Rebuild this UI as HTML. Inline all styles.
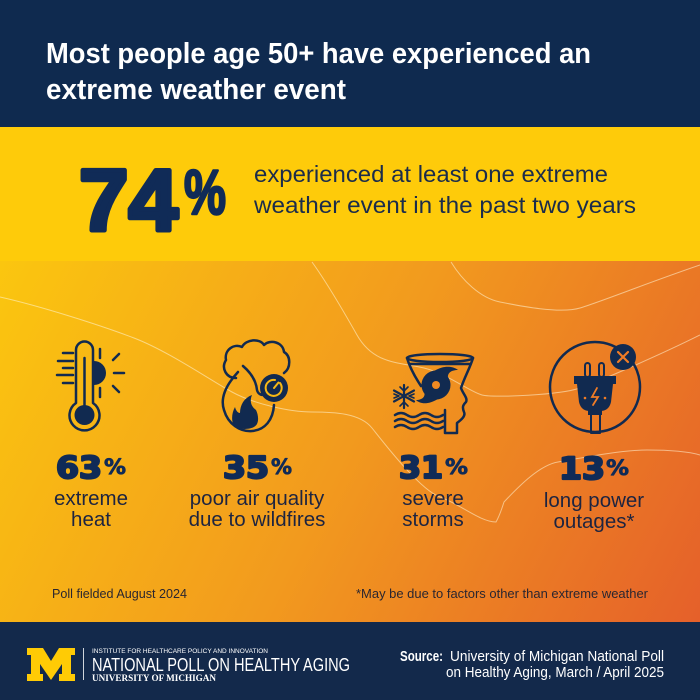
<!DOCTYPE html>
<html><head><meta charset="utf-8"><style>
html,body{margin:0;padding:0;background:#fff;}
svg{display:block;}
</style></head><body>
<svg width="700" height="700" viewBox="0 0 700 700" xmlns="http://www.w3.org/2000/svg">
<defs>
<linearGradient id="bg" gradientUnits="userSpaceOnUse" x1="0" y1="262" x2="700" y2="620">
<stop offset="0" stop-color="#fbc60f"/>
<stop offset="0.5" stop-color="#f29a1e"/>
<stop offset="1" stop-color="#e5602a"/>
</linearGradient>
</defs>
<!-- header -->
<rect x="0" y="0" width="700" height="128" fill="#0f2a4f"/>
<rect x="0" y="127" width="700" height="135" fill="#fecb0a"/>
<rect x="0" y="261" width="700" height="362" fill="url(#bg)"/>
<rect x="0" y="622" width="700" height="78" fill="#13294b"/>

<!-- background contour lines -->
<g fill="none" stroke="#fff5d8" stroke-opacity="0.55" stroke-width="1">
<path d="M0,297 C40,306 100,325 134,338 S210,380 232,392 S290,412 312,412 S360,413 372,428 S420,490 440,497 S480,522 496,522 C500,515 502,508 504,502 C520,485 540,465 558,462 S620,450 647,450 S690,452 700,455"/>
<path d="M312,262 C325,280 340,305 357,335 S400,362 424,368 S470,392 482,395 S560,395 580,388 S660,355 700,335"/>
<path d="M451,262 C462,280 480,298 500,302 S560,314 580,308 S650,282 700,265"/>
</g>

<!-- title -->
<g font-family="'Liberation Sans', Arial, sans-serif" font-weight="bold" fill="#ffffff" font-size="29">
<text x="46" y="63" textLength="545" lengthAdjust="spacingAndGlyphs">Most people age 50+ have experienced an</text>
<text x="46" y="99" textLength="300" lengthAdjust="spacingAndGlyphs">extreme weather event</text>
</g>

<!-- 74% -->
<g font-family="'Liberation Sans', Arial, sans-serif" font-weight="bold" fill="#102b57" stroke="#102b57" stroke-linejoin="round">
<text x="79" y="230" font-size="87" stroke-width="4.5" textLength="99" lengthAdjust="spacingAndGlyphs">74</text>
<text x="184" y="214" font-size="63" stroke-width="2.5" textLength="42" lengthAdjust="spacingAndGlyphs">%</text>
</g>
<g font-family="'Liberation Sans', Arial, sans-serif" fill="#1b2c4b" font-size="23.5">
<text x="254" y="182" textLength="354" lengthAdjust="spacingAndGlyphs">experienced at least one extreme</text>
<text x="254" y="213" textLength="382" lengthAdjust="spacingAndGlyphs">weather event in the past two years</text>
</g>

<!-- ICONS -->
<g stroke="#112a50" stroke-width="2.5" fill="none" stroke-linecap="round" stroke-linejoin="round">
<!-- thermometer -->
<path d="M76,403 V350 A8.5,8.5 0 0 1 93,350 V403 A15,15 0 1 1 76,403 Z"/>
<line x1="84.5" y1="358" x2="84.5" y2="408"/>
<line x1="63" y1="353" x2="73" y2="353"/>
<line x1="58" y1="361" x2="73" y2="361"/>
<line x1="63" y1="368" x2="73" y2="368"/>
<line x1="57" y1="375" x2="73" y2="375"/>
<line x1="63" y1="383" x2="73" y2="383"/>
<line x1="100" y1="349" x2="100" y2="358"/>
<line x1="113" y1="360" x2="119" y2="354"/>
<line x1="114" y1="373" x2="124" y2="373"/>
<line x1="113" y1="386" x2="119" y2="392"/>
<line x1="100" y1="388" x2="100" y2="397"/>
<!-- cloud + fire -->
<path d="M236,378 C226,378 221,368 226,360 C224,350 234,343 242,347 C246,339 260,338 264,345 C270,339 283,342 284,352 C291,356 291,368 284,373"/>
<path d="M238,372 C226,385 220,398 224,410 C228,424 240,432 252,431 C265,430 273,420 274,405"/>
<path d="M243,366 C250,372 256,380 257,390 C258,394 262,396 264,394"/>
<!-- storm -->
<ellipse cx="440" cy="358" rx="33" ry="4"/>
<line x1="410" y1="364" x2="470" y2="364"/>
<path d="M407,358 C410,368 415,377 421,386"/>
<path d="M473,358 C470,368 465,376 461,388 C463,394 468,398 466,402 C463,405 462,407 464,412 C466,416 461,420 457,423 L457,433 L445,433 L445,410"/>
<path d="M404,385 V408 M394,390.5 L414,401.5 M394,401.5 L414,390.5" stroke-width="2.2"/>
<path d="M400,387 L404,391 L408,387 M400,406 L404,402 L408,406 M394,394 L399,396 M414,394 L409,396 M394,398 L399,396 M414,398 L409,396" stroke-width="1.6"/>
<path d="M395,415 q6,-4 12,0 t12,0 t12,0 t12,0"/>
<path d="M395,421 q6,-4 12,0 t12,0 t12,0 t12,0"/>
<path d="M395,427 q6,-4 12,0 t12,0 t12,0 t12,0"/>
<!-- plug -->
<circle cx="595" cy="387" r="45"/>
<rect x="585" y="363" width="5" height="14" rx="2.5" stroke-width="2"/>
<rect x="599" y="363" width="5" height="14" rx="2.5" stroke-width="2"/>
<rect x="591" y="414" width="9" height="19" stroke-width="2"/>
</g>
<g fill="#112a50">
<circle cx="84.5" cy="415" r="10"/>
<path d="M94,361 A12,12 0 0 1 94,385 Z"/>
<path d="M236,428 C231,424 231,414 235,407 C236,411 238,413 240,413 C240,405 244,398 252,395 C249,402 252,407 256,410 C258,414 259,420 257,424 C254,429 246,430 236,428 Z"/>
<circle cx="274" cy="388" r="14"/>
<circle cx="436" cy="385" r="14.5"/>
<path d="M434,371 C444,365 453,366 458,370 C451,370 447,373 448,379 Z"/>
<path d="M438,399 C428,405 420,404 416,400 C423,400 426,396 424,391 Z"/>
<circle cx="623" cy="357" r="13"/>
<path d="M574,376 H616 V384 H574 Z"/>
<path d="M577,384 L613,384 L611,402 Q609,411 600,411 L590,411 Q581,411 579,402 Z"/>
<rect x="588" y="410" width="14" height="5"/>
</g>
<g fill="none" stroke="#f6b814" stroke-width="2" stroke-linecap="round">
<path d="M280,383 A8,8 0 1 1 275,380"/>
<line x1="274" y1="388" x2="278.5" y2="382.5"/>
</g>
<circle cx="436" cy="385" r="4" fill="#f08a22"/>
<g stroke="#f07c26" stroke-width="2.2" stroke-linecap="round" fill="none">
<line x1="618" y1="352" x2="628" y2="362"/>
<line x1="628" y1="352" x2="618" y2="362"/>
<polyline points="597,388 592,397 598,397 593,405" stroke-width="1.8"/>
</g>
<circle cx="585" cy="398" r="1.3" fill="#f07c26"/>
<circle cx="605" cy="398" r="1.3" fill="#f07c26"/>

<!-- stats numbers -->
<g font-family="'DejaVu Sans', 'Liberation Sans', sans-serif" font-weight="bold" fill="#102b57" stroke="#102b57" stroke-linejoin="round">
<g stroke-width="2.2">
<text x="56" y="478" font-size="30" textLength="46" lengthAdjust="spacingAndGlyphs">63</text>
<text x="223" y="478" font-size="30" textLength="46" lengthAdjust="spacingAndGlyphs">35</text>
<text x="399" y="478" font-size="30" textLength="44" lengthAdjust="spacingAndGlyphs">31</text>
<text x="559" y="479" font-size="30" textLength="46" lengthAdjust="spacingAndGlyphs">13</text>
</g>
<g stroke-width="0.8">
<text x="104" y="474" font-size="21" textLength="22" lengthAdjust="spacingAndGlyphs">%</text>
<text x="271" y="474" font-size="21" textLength="21" lengthAdjust="spacingAndGlyphs">%</text>
<text x="445" y="474" font-size="21" textLength="23" lengthAdjust="spacingAndGlyphs">%</text>
<text x="606" y="475" font-size="21" textLength="23" lengthAdjust="spacingAndGlyphs">%</text>
</g>
</g>
<g font-family="'Liberation Sans', Arial, sans-serif" fill="#1d2440" font-size="20.5" text-anchor="middle">
<text x="91" y="505">extreme</text>
<text x="91" y="526">heat</text>
<text x="257" y="505">poor air quality</text>
<text x="257" y="526">due to wildfires</text>
<text x="433" y="505">severe</text>
<text x="433" y="526">storms</text>
<text x="594" y="507">long power</text>
<text x="594" y="528">outages*</text>
</g>

<!-- footnotes -->
<g font-family="'Liberation Sans', Arial, sans-serif" fill="#2a2630" font-size="13">
<text x="52" y="598" textLength="135" lengthAdjust="spacingAndGlyphs">Poll fielded August 2024</text>
<text x="356" y="598" textLength="292" lengthAdjust="spacingAndGlyphs">*May be due to factors other than extreme weather</text>
</g>

<!-- footer -->
<path fill="#ffcb05" d="M27,648 L43,648 L51,661 L59,648 L75,648 L75,655 L71,655 L71,674 L75,674 L75,681 L59,681 L59,674 L62,674 L62,664 L51,680 L40,664 L40,674 L43,674 L43,681 L27,681 L27,674 L31,674 L31,655 L27,655 Z"/>
<line x1="83.5" y1="648" x2="83.5" y2="680" stroke="#ffffff" stroke-opacity="0.8" stroke-width="1"/>
<g fill="#ffffff">
<text x="92" y="653" font-family="'Liberation Sans', Arial, sans-serif" font-size="6.5" textLength="176" lengthAdjust="spacingAndGlyphs">INSTITUTE FOR HEALTHCARE POLICY AND INNOVATION</text>
<text x="92" y="671" font-family="'Liberation Sans', Arial, sans-serif" font-size="18" textLength="258" lengthAdjust="spacingAndGlyphs">NATIONAL POLL ON HEALTHY AGING</text>
<text x="92" y="681" font-family="'Liberation Serif', 'Times New Roman', serif" font-weight="bold" font-size="9" textLength="124" lengthAdjust="spacingAndGlyphs">UNIVERSITY OF MICHIGAN</text>
<text x="400" y="661" font-family="'Liberation Sans', Arial, sans-serif" font-weight="bold" font-size="15" textLength="43" lengthAdjust="spacingAndGlyphs">Source:</text>
<text x="450" y="661" font-family="'Liberation Sans', Arial, sans-serif" font-size="15" textLength="214" lengthAdjust="spacingAndGlyphs">University of Michigan National Poll</text>
<text x="446" y="677" font-family="'Liberation Sans', Arial, sans-serif" font-size="15" textLength="218" lengthAdjust="spacingAndGlyphs">on Healthy Aging, March / April 2025</text>
</g>
</svg>
</body></html>
